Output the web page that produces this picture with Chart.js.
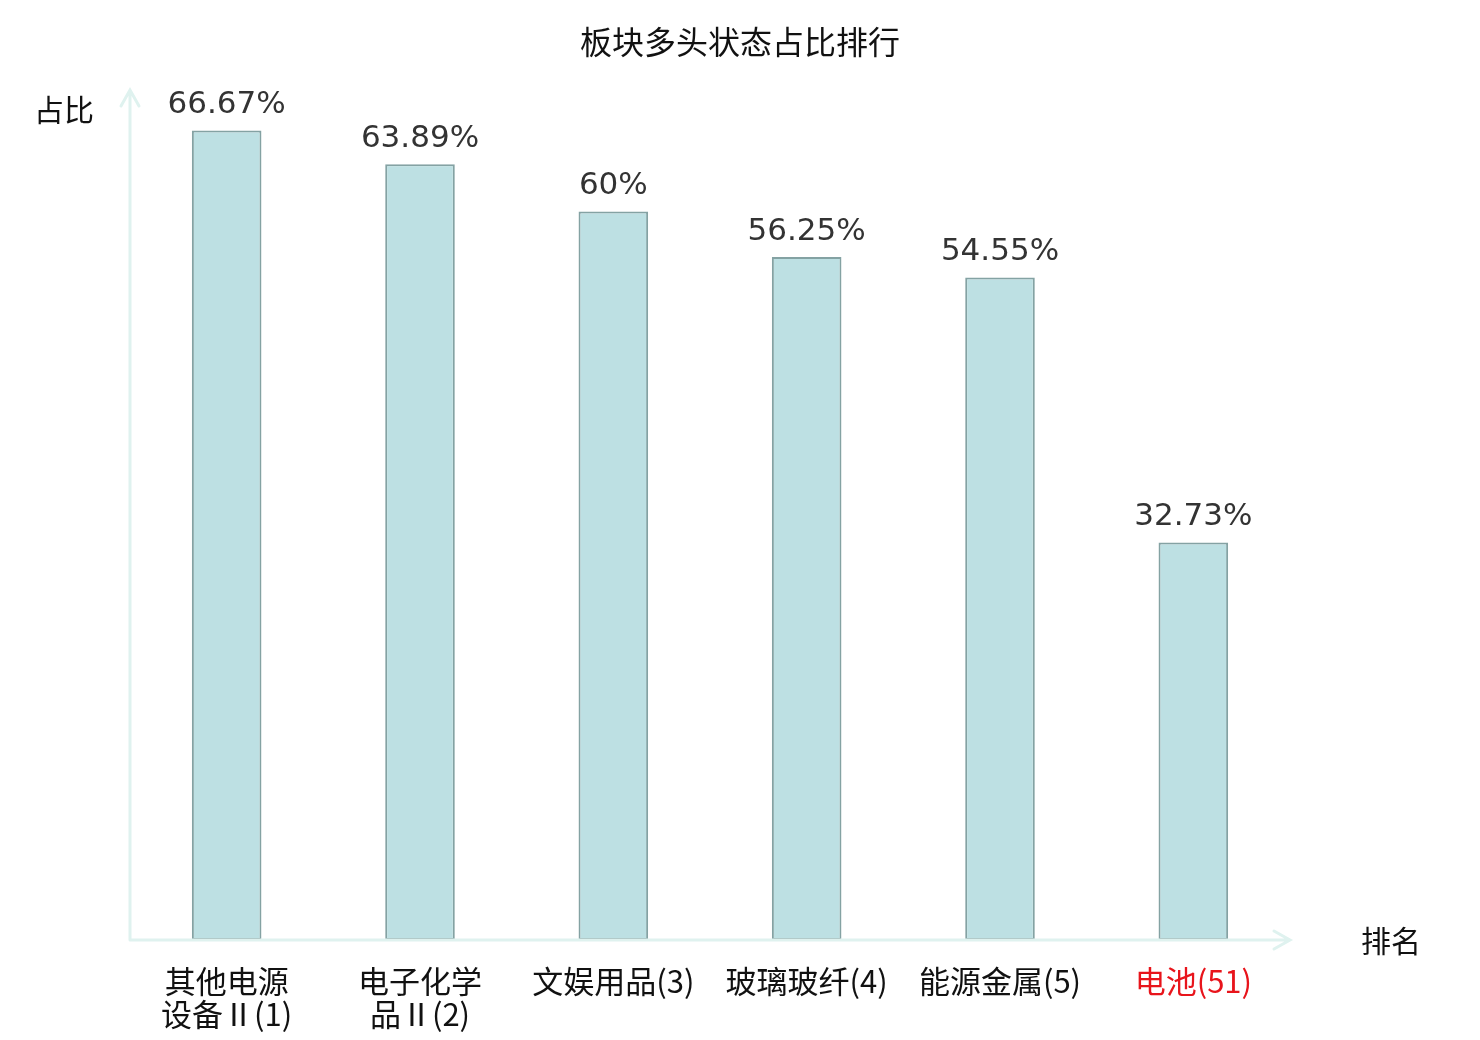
<!DOCTYPE html>
<html>
<head>
<meta charset="utf-8">
<script src="https://cdn.jsdelivr.net/npm/chart.js@4.4.0/dist/chart.umd.min.js"></script>
<style>
html,body{margin:0;padding:0;background:#fff;}
#wrap{width:1480px;height:1040px;position:relative;}
</style>
</head>
<body>
<div id="wrap"><canvas id="c" width="1480" height="1040"></canvas></div>
<script>
const categories = [["其他电源","设备Ⅱ(1)"],["电子化学","品Ⅱ(2)"],"文娱用品(3)","玻璃玻纤(4)","能源金属(5)","电池(51)"];
const values = [66.67, 63.89, 60, 56.25, 54.55, 32.73];
const valueLabels = ["66.67%","63.89%","60%","56.25%","54.55%","32.73%"];
const highlightIndex = [5];
const chartTitle = "板块多头状态占比排行";
const yTitle = "占比";
const xTitle = "排名";

const CJK = '"Noto Sans CJK SC","Noto Sans",sans-serif';
const axisColor = '#dff2ef';

const deco = {
  id: 'deco',
  afterDatasetsDraw(chart) {
    const ctx = chart.ctx;
    const a = chart.chartArea;
    ctx.save();
    ctx.strokeStyle = axisColor;
    ctx.lineWidth = 3;
    ctx.lineCap = 'round';
    ctx.beginPath();
    ctx.moveTo(a.left, a.bottom);
    ctx.lineTo(a.right, a.bottom);
    ctx.moveTo(a.right - 16, a.bottom - 9);
    ctx.lineTo(a.right, a.bottom);
    ctx.lineTo(a.right - 16, a.bottom + 9);
    ctx.moveTo(a.left, a.bottom);
    ctx.lineTo(a.left, a.top);
    ctx.moveTo(a.left - 9, a.top + 16);
    ctx.lineTo(a.left, a.top);
    ctx.lineTo(a.left + 9, a.top + 16);
    ctx.stroke();
    const meta = chart.getDatasetMeta(0);
    ctx.fillStyle = '#333333';
    ctx.font = '31px "DejaVu Sans", sans-serif';
    ctx.textAlign = 'center';
    ctx.textBaseline = 'bottom';
    meta.data.forEach((bar, i) => {
      ctx.fillText(valueLabels[i], bar.x, bar.y - 10);
    });
    ctx.fillStyle = '#111111';
    ctx.font = '32px ' + CJK;
    ctx.textBaseline = 'middle';
    ctx.textAlign = 'center';
    ctx.fillText(chartTitle, 740, 42);
    ctx.font = '30px ' + CJK;
    ctx.textAlign = 'left';
    ctx.fillText(yTitle, 34, 110);
    ctx.fillText(xTitle, 1361, 941);
    ctx.restore();
  }
};

new Chart(document.getElementById('c'), {
  type: 'bar',
  data: {
    labels: categories,
    datasets: [{
      data: values,
      backgroundColor: '#bde0e3',
      borderColor: '#84a2a3',
      borderWidth: 2,
      borderSkipped: false,
      barPercentage: 0.72,
      categoryPercentage: 0.5
    }]
  },
  options: {
    responsive: false,
    animation: false,
    devicePixelRatio: 1,
    layout: { padding: { left: 130, right: 190, top: 90, bottom: 0 } },
    plugins: { legend: { display: false }, tooltip: { enabled: false }, title: { display: false } },
    scales: {
      x: {
        grid: { display: false },
        border: { display: false },
        afterFit(s) { s.height = 100; },
        ticks: {
          padding: 17,
          color: (c) => highlightIndex.includes(c.index) ? '#e8141b' : '#111111',
          font: { size: 31, family: CJK, lineHeight: 1.05 },
          maxRotation: 0, autoSkip: false
        }
      },
      y: {
        min: 0, max: 70,
        display: true,
        grid: { display: false },
        border: { display: false },
        ticks: { display: false },
        afterFit(s) { s.width = 0; }
      }
    }
  },
  plugins: [deco]
});
</script>
</body>
</html>
